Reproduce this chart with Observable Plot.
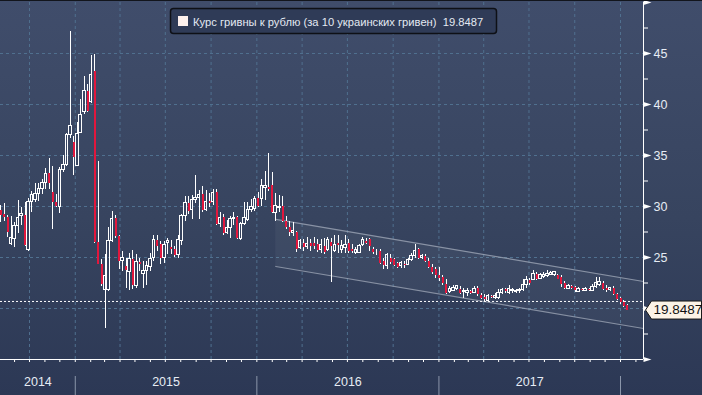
<!DOCTYPE html>
<html>
<head>
<meta charset="utf-8">
<script src="https://cdn.jsdelivr.net/npm/d3@7"></script>
<script src="https://cdn.jsdelivr.net/npm/@observablehq/plot@0.6"></script>
<style>
  html, body { margin: 0; padding: 0; }
  body { width: 702px; height: 395px; overflow: hidden; background: #34405c; }
  #chart svg { display: block; }
</style>
</head>
<body>
<div id="chart"></div>
<script>
// ---------------- data ----------------
const seriesName = "Курс гривны к рублю (за 10 украинских гривен)";
const firstWeek = "2014-08-04";           // weekly candles (Mondays)
const open = [
  29.6,29.2,28.9,26.3,26.8,28.1,29.05,29.1,25.7,30.4,
  30.6,31.2,31.7,32.3,33.2,31.4,30.4,30.0,33.6,34.1,
  37.0,36.3,33.95,37.2,39.3,41.3,40.2,43.2,26.5,24.3,
  21.8,21.8,26.6,28.8,27.06,24.7,24.1,23.6,24.84,22.16,
  24.5,23.43,23.7,24.1,24.93,26.7,26.24,24.93,26.4,25.98,
  25.75,25.2,26.57,29.08,30.33,29.61,30.65,30.88,31.14,29.61,
  30.49,30.45,31.34,28.24,28.9,27.4,27.9,28.8,28.9,26.83,
  28.24,28.7,29.64,29.77,30.75,30.7,31.8,31.9,32.06,29.4,
  29.9,30.03,28.56,27.9,27.45,27.5,25.95,26.4,26.05,26.34,
  26.34,26.3,25.69,26.08,25.75,26.47,25.59,26.4,25.69,25.92,
  26.34,25.75,25.42,25.49,26.24,26.57,26.73,25.82,25.42,25.59,
  24.61,24.18,24.93,24.77,24.38,24.12,24.35,24.28,24.77,25.1,
  25.75,24.93,25.13,24.64,24.05,23.79,23.2,23.07,22.32,21.57,
  21.76,21.9,21.83,21.57,21.5,21.67,21.5,22.0,21.24,21.11,
  20.78,21.18,21.01,21.01,21.5,21.83,21.5,21.67,21.6,21.67,
  21.83,22.32,22.75,22.8,23.37,22.94,23.04,23.14,23.27,23.33,
  23.27,23.04,22.48,21.96,22.16,22.06,21.63,21.9,21.73,21.9,
  21.73,22.06,22.29,22.48,21.96,21.83,21.96,21.41,20.98,20.59,
  20.26
];
const high = [
  30.1,30.3,29.1,29.0,28.4,30.6,29.9,30.4,30.75,31.5,
  32.3,32.3,32.6,33.7,34.7,33.9,31.2,33.8,35.0,37.2,
  47.2,36.9,38.2,40.5,42.7,42.0,44.8,44.9,34.4,24.8,
  25.3,27.9,29.5,29.1,27.2,25.6,24.9,25.4,25.65,25.26,
  24.9,24.6,24.6,25.4,27.2,27.2,26.6,26.6,26.9,26.7,
  26.1,27.2,29.2,31.0,31.0,31.05,33.0,31.6,32.0,31.6,
  31.3,31.7,31.7,29.4,29.2,28.6,29.05,29.4,29.0,28.4,
  30.36,30.36,30.7,31.0,31.34,32.65,33.46,35.2,33.3,31.3,
  31.1,31.0,29.05,28.56,28.4,27.58,26.76,26.76,27.0,26.76,
  27.0,26.8,26.73,26.9,26.99,26.9,27.12,27.12,26.67,27.12,
  26.73,26.24,26.01,26.24,26.96,26.9,26.9,26.01,25.75,25.75,
  24.93,25.36,25.26,24.93,24.51,24.61,24.61,24.93,25.42,26.24,
  25.92,25.3,25.3,24.9,24.28,24.05,24.05,23.2,22.81,22.16,
  22.22,22.3,22.16,22.0,22.0,21.8,22.16,22.16,21.5,21.34,
  21.4,21.3,21.44,21.83,22.0,22.0,22.22,22.0,21.9,22.0,
  22.81,23.14,22.9,23.69,23.53,23.46,23.53,23.69,23.59,23.66,
  23.37,23.2,22.61,22.39,22.29,22.16,22.06,22.0,22.03,22.0,
  22.39,23.04,23.04,22.61,22.29,22.1,22.16,21.5,21.08,20.75,
  20.42
];
const low = [
  28.4,28.5,27.0,26.2,26.0,27.4,28.1,26.1,25.6,29.4,
  30.4,30.5,31.2,31.7,31.7,27.7,29.9,29.3,33.3,33.9,
  36.7,33.0,33.9,37.2,39.0,39.2,40.1,26.4,24.3,22.2,
  18.0,21.7,26.5,26.9,23.8,23.6,22.0,21.8,21.83,22.0,
  23.6,22.0,22.3,23.6,24.6,25.6,24.3,24.4,25.3,25.3,
  25.0,24.9,26.2,28.5,29.2,28.7,30.3,28.7,29.4,29.5,
  29.9,30.1,28.1,27.9,27.2,27.3,26.9,28.1,26.8,26.7,
  28.1,28.56,29.4,29.54,29.9,30.03,30.6,31.5,29.3,28.56,
  29.4,28.4,27.75,27.1,27.1,25.46,25.8,25.62,25.8,25.62,
  25.78,25.5,25.42,25.26,25.59,22.55,25.49,25.36,25.42,25.42,
  25.42,25.42,25.26,25.36,26.08,26.24,25.59,25.26,25.2,24.28,
  23.86,23.86,24.28,24.12,23.95,23.95,23.95,24.18,24.61,24.93,
  24.77,24.8,24.5,23.95,23.3,22.97,22.65,22.22,21.34,21.44,
  21.67,21.8,21.34,21.01,21.18,21.4,21.44,21.18,20.85,20.69,
  20.69,21.0,20.85,20.85,21.34,21.5,21.34,21.5,21.5,21.5,
  21.67,22.0,22.3,22.71,22.71,22.81,22.94,23.04,23.2,23.14,
  22.81,22.06,21.9,21.9,21.83,21.57,21.57,21.7,21.63,21.7,
  21.63,21.96,22.2,21.73,21.57,21.7,21.31,20.75,20.42,20.1,
  19.8
];
const close = [
  29.1,28.9,27.5,26.9,28.1,28.9,29.3,26.2,30.4,31.1,
  31.2,31.7,32.3,33.2,32.3,30.4,30.0,33.6,34.1,37.0,
  37.9,34.8,37.15,39.0,41.3,39.3,42.9,26.5,24.3,22.4,
  23.2,26.6,28.8,27.1,24.6,24.95,23.7,24.9,22.25,24.6,
  24.35,23.7,24.2,24.9,26.7,26.08,24.93,26.24,26.57,25.75,
  25.2,26.67,29.08,30.39,29.5,30.65,30.88,31.14,29.61,30.49,
  30.33,31.3,28.24,28.9,27.4,27.9,28.8,28.9,26.83,28.24,
  28.9,29.64,29.97,30.75,30.03,32.0,32.0,31.67,29.4,30.03,
  30.0,28.56,27.9,27.42,27.58,25.8,26.6,25.95,26.3,26.05,
  26.11,25.65,26.18,25.49,26.67,26.08,26.24,26.14,26.08,26.24,
  25.59,25.59,25.69,26.14,26.67,26.4,26.08,25.49,25.36,24.38,
  24.18,25.26,24.51,24.18,24.05,24.44,24.18,24.77,25.16,25.59,
  24.93,25.16,24.6,24.05,23.53,23.2,22.97,22.42,21.5,21.9,
  22.0,22.16,21.5,21.76,21.76,21.5,21.9,21.34,21.01,20.85,
  21.24,21.11,21.24,21.5,21.83,21.67,21.9,21.83,21.73,21.83,
  22.32,22.75,22.5,23.37,22.81,23.27,23.27,23.37,23.46,23.53,
  22.88,22.39,21.96,22.16,21.96,21.73,21.9,21.8,21.9,21.76,
  22.06,22.48,22.55,21.83,21.8,22.03,21.41,20.85,20.59,20.2,
  19.8487
];
const lastClose = 19.8487;
const refLevel = 20.69;                       // dashed white reference line
const channelDates = ["2016-02-08", "2018-02-16T05:00Z"];
const channelUpper = [28.73, 22.65];
const channelLower = [24.12, 18.04];
const yearNames = ["2014", "2015", "2016", "2017"];
const gridValues = [20, 25, 30, 35, 40, 45];
const majorTicks = [15, 20, 25, 30, 35, 40, 45, 50];
const labelTicks = [25, 30, 35, 40, 45];
const minorTicks = [17.5, 22.5, 27.5, 32.5, 37.5, 42.5, 47.5];
const xStart = new Date("2014-08-03T17:00Z");
const xEnd = new Date("2018-02-16T05:00Z");

// ---------------- build ----------------
const dates = d3.utcMonday.range(new Date(firstWeek), xEnd).slice(0, close.length);
const candles = dates.map((date, i) => ({date, open: open[i], high: high[i], low: low[i], close: close[i]}));
const up = candles.filter(d => d.close >= d.open);
const down = candles.filter(d => d.close < d.open);
const channel = channelDates.map((d, i) => ({date: new Date(d), upper: channelUpper[i], lower: channelLower[i]}));
const quarters = d3.utcMonth.every(3).range(xStart, xEnd);
const months = d3.utcMonth.range(xStart, xEnd);
const yearStarts = d3.utcYear.range(xStart, xEnd);
const bounds = [xStart, ...yearStarts, xEnd];
const yearLabels = yearNames.map((label, i) => ({label, date: new Date((+bounds[i] + +bounds[i + 1]) / 2)}));

const RED = "#e2173d";
const GRID = "#50708f";
const LABEL = "#e6ecf4";
const halfBody = 2.6 * 864e5;

const tri = {draw(ctx) { ctx.moveTo(0, -2.6); ctx.lineTo(8, 0); ctx.lineTo(0, 2.6); ctx.closePath(); }};
const tag = {draw(ctx) { ctx.moveTo(2, 0); ctx.lineTo(8, -9); ctx.lineTo(58, -9); ctx.lineTo(58, 9); ctx.lineTo(8, 9); ctx.closePath(); }};

const chart = Plot.plot({
  width: 702,
  height: 395,
  marginLeft: 0,
  marginRight: 59,
  marginTop: 2,
  marginBottom: 36,
  style: {
    background: "linear-gradient(to bottom, #404d6b 0%, #37445f 55%, #2c3855 100%)",
    color: LABEL,
    fontFamily: "'Liberation Sans', Arial, sans-serif",
    fontSize: "12.5px",
    overflow: "visible"
  },
  x: {type: "utc", domain: [xStart, xEnd], axis: null},
  y: {domain: [15, 50], axis: null},
  marks: [
    Plot.ruleY(gridValues, {stroke: GRID, strokeDasharray: "3,3"}),
    Plot.ruleX(quarters, {stroke: GRID, strokeDasharray: "3,3"}),
    Plot.areaY(channel, {x: "date", y1: "lower", y2: "upper", fill: "white", fillOpacity: 0.045}),
    Plot.line(channel, {x: "date", y: "upper", stroke: "#a3abbb", strokeOpacity: 0.75, strokeWidth: 1.2}),
    Plot.line(channel, {x: "date", y: "lower", stroke: "#a3abbb", strokeOpacity: 0.75, strokeWidth: 1.2}),
    Plot.ruleY([refLevel], {stroke: "white", strokeDasharray: "2,2"}),
    // candles
    Plot.ruleX(candles, {x: "date", y1: "high", y2: d => Math.max(d.open, d.close), stroke: "white", shapeRendering: "crispEdges"}),
    Plot.ruleX(candles, {x: "date", y1: d => Math.min(d.open, d.close), y2: "low", stroke: "white", shapeRendering: "crispEdges"}),
    Plot.rect(up, {x1: d => new Date(+d.date - halfBody), x2: d => new Date(+d.date + halfBody), y1: "open", y2: "close", fill: "none", stroke: "white", shapeRendering: "crispEdges"}),
    Plot.ruleX(down, {x: "date", y1: "open", y2: "close", stroke: RED, strokeWidth: 2, shapeRendering: "crispEdges"}),
    // bottom axis
    Plot.ruleY([15], {stroke: "white"}),
    Plot.axisX({anchor: "bottom", ticks: months, tickSize: 3, tickFormat: () => "", stroke: "white", label: null}),
    Plot.axisX({anchor: "bottom", ticks: yearStarts, tickSize: 19, dy: 17, tickFormat: () => "", stroke: "#8b96aa", label: null}),
    Plot.text(yearLabels, {x: "date", text: "label", frameAnchor: "bottom", dy: 26, fill: LABEL, fontSize: 12.5}),
    // right axis
    Plot.ruleX([xEnd], {stroke: "white"}),
    Plot.axisY({anchor: "right", ticks: minorTicks, tickSize: 4, tickFormat: () => "", stroke: "white", label: null}),
    Plot.dot(majorTicks, {y: d => d, frameAnchor: "right", symbol: tri, r: 4, fill: "white", stroke: null}),
    Plot.axisY({anchor: "right", ticks: labelTicks, tickSize: 0, tickPadding: 10, fill: LABEL, fontSize: 12.5, label: null}),
    // last price tag
    Plot.dot([lastClose], {y: d => d, frameAnchor: "right", symbol: tag, r: 5, fill: "#fcf3e6", stroke: "#1a1a1a", strokeWidth: 1}),
    Plot.text([lastClose], {y: d => d, frameAnchor: "right", text: d => d.toFixed(4), dx: 10, textAnchor: "start", fill: "#111", fontSize: 13.5})
  ]
});

document.getElementById("chart").append(chart);

// legend box inside the plot (top)
const svg = d3.select(chart);
svg.append("line").attr("x1", 0).attr("x2", 702).attr("y1", 0.5).attr("y2", 0.5).attr("stroke", "#12151c");
const lg = svg.append("g");
lg.append("rect").attr("x", 170.5).attr("y", 8.5).attr("width", 326).attr("height", 25).attr("rx", 3)
  .attr("fill", "#2f3b57").attr("stroke", "#0e1016").attr("stroke-width", 1.5);
lg.append("rect").attr("x", 178).attr("y", 16).attr("width", 10).attr("height", 10).attr("fill", "#fdf1ee");
lg.append("text").attr("x", 193).attr("y", 25.5).attr("fill", "#e3e9f2").attr("font-size", 11.2)
  .attr("text-anchor", "start").style("white-space", "pre")
  .text(`${seriesName}  ${lastClose.toFixed(4)}`);
</script>
</body>
</html>
